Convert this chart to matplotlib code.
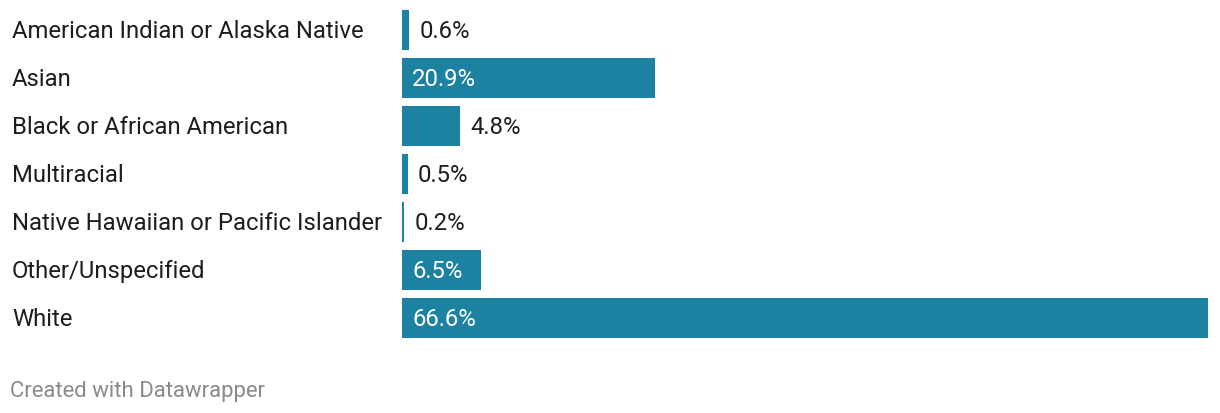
import matplotlib.pyplot as plt
from matplotlib import transforms

plt.rcParams['font.family'] = ['Roboto', 'DejaVu Sans']

categories = ['American Indian or Alaska Native', 'Asian', 'Black or African American',
              'Multiracial', 'Native Hawaiian or Pacific Islander', 'Other/Unspecified', 'White']
shares = [0.6, 20.9, 4.8, 0.5, 0.2, 6.5, 66.6]

BAR_COLOR = '#1d81a2'
TEXT_COLOR = '#1d1d1d'
W, H = 1220, 414
FS = 17.2

fig = plt.figure(figsize=(W / 100, H / 100), dpi=100)
# axes: x=0 at 402px, x=66.6 at 1208px; rows centered at 30 + 48*i px
ax = fig.add_axes([402 / W, (H - 343) / H, 806 / W, 336 / H])
ax.barh(range(len(categories)), shares, height=40 / 48, color=BAR_COLOR)
ax.set_xlim(0, max(shares))
ax.set_ylim(len(categories) - 0.5, -0.5)
ax.axis('off')

label_tr = transforms.blended_transform_factory(fig.transFigure, ax.transData)
px = transforms.ScaledTranslation(10 / 100, 0, fig.dpi_scale_trans)
down = transforms.ScaledTranslation(0, -1 / 100, fig.dpi_scale_trans)

for i, (cat, val) in enumerate(zip(categories, shares)):
    ax.text(12 / W, i, cat, transform=label_tr + down, ha='left', va='center',
            fontsize=FS, color=TEXT_COLOR)
    txt = f'{val}%'
    if val > 6:
        ax.text(0, i, txt, transform=ax.transData + px + down, ha='left', va='center',
                fontsize=FS, color='white')
    else:
        ax.text(val, i, txt, transform=ax.transData + px + down, ha='left', va='center',
                fontsize=FS, color=TEXT_COLOR)

fig.text(10 / W, 1 - 392 / H, 'Created with Datawrapper', ha='left', va='center',
         fontsize=15.9, color='#8a8a8a')

fig.savefig('out.png', dpi=100)
